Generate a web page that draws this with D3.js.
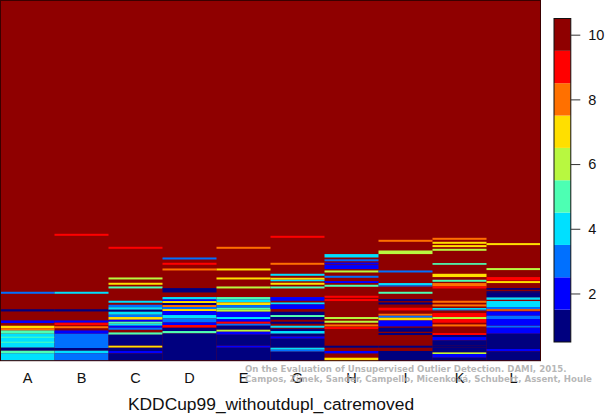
<!DOCTYPE html>
<html><head><meta charset="utf-8">
<script src="https://cdn.jsdelivr.net/npm/d3@7"></script>
<style>html,body{margin:0;padding:0;background:#fff}svg{display:block}</style></head>
<body><svg id="c" width="605" height="415"></svg>
<script>
const methods=["A","B","C","D","E","G","H","I","K","L"];
const levels=[1,2,3,4,5,6,7,8,9,10];
const levelColors=["#00007f","#0000ff","#0070ff","#00e0ff","#4dffb3","#b8f840","#ffdf00","#ff7000","#ff0000","#8f0000"];
const barTicks=[2,4,6,8,10];
const title="KDDCup99_withoutdupl_catremoved";
const creditLines=["On the Evaluation of Unsupervised Outlier Detection. DAMI, 2015.","Campos, Zimek, Sander, Campello, Micenková, Schubert, Assent, Houle"];
// each band: [rank start, rank end, score level]; rank runs 0..361 from the top, anything unlisted is level 10
const bandsA=[[292,294,3],[309.5,311.7,1],[320.7,323.3,2],[326,328.5,7],[328.5,330.7,8],[330.7,334,5],[334,348,4],[337,338,5],[342,343,5],[348,351,1],[351,353.5,5],[353.5,361,4]];
const bandsB=[[234,236,9],[292,294,4],[309.5,311.7,1],[320.7,323,2],[323,325.5,9],[326.5,328.5,8],[330.7,334,2],[334,348.3,3],[348.3,351,1],[351,353.5,4],[353.5,361,3]];
const bandsC=[[247,249,9],[277.7,279.7,6],[283,285,7],[286.7,288.7,5],[301,303,4],[305,307.5,3],[307.5,310,4],[310,312,1],[312,315,4],[315,317.3,3],[317.3,320,7],[320,322,2],[322,324,5],[324,326,4],[326,328,2],[328,330,3],[332.7,335,5],[335,346,1],[346,348,7],[348,351.3,1],[351.3,353.7,2],[353.7,361,1]];
const bandsD=[[257.7,259.7,3],[263,265,9],[268.7,270.7,8],[288.3,292.7,1],[297.3,299.7,4],[299.7,301.3,2],[301.3,303.3,7],[303.3,305.3,1],[305.3,307.3,8],[307.3,309.3,3],[309.3,311.3,7],[311.3,315.3,2],[315.3,318.7,4],[318.7,322.7,3],[322.7,325.3,2],[325.3,328,9],[328,331.3,1],[331.3,333.7,5],[333.7,361,1]];
const bandsE=[[247,249,8],[268.7,270.7,7],[277.7,279.7,7],[286.7,288.7,6],[297.3,299.7,5],[299.7,302.7,4],[302.7,305.3,7],[305.3,308,3],[308,310,5],[310,312,6],[312,317.3,2],[317.3,319.3,4],[319.3,322,2],[322,324,9],[324,326,3],[326,330,1],[330,332,6],[332,335,2],[335,346,1],[346,348,2],[348,361,1]];
const bandsG=[[236,238,9],[263,265,8],[274,276,4],[278,280,7],[280,281.5,4],[283,285,7],[286.7,288.7,5],[297.3,301,2],[302.7,304.7,4],[304.7,309.3,2],[312,315.3,1],[315.3,317.3,5],[317.3,320,1],[322,324,1],[326,328,4],[329,331.3,1],[331.3,334,4],[334,336.7,1],[336.7,339,2],[339,348,1],[348,350,4],[350,352,3],[352,361,1]];
const bandsH=[[254.3,257.7,4],[259.5,261.5,3],[262.7,264.7,2],[265.3,269.3,2],[270.7,272.7,6],[276,278,3],[281.3,283.3,2],[285,287,5],[296,298,9],[299.3,301.3,9],[317.3,319.3,6],[321,323,6],[324.7,326.7,8],[327.3,329.3,9],[346,348,1],[351.3,353.7,2],[358,361,7]];
const bandsI=[[240,242,8],[250.7,254.3,6],[270.7,272.7,3],[283.3,285.5,4],[285.5,286.7,3],[292,294,5],[299.3,301.3,1],[302.7,304.7,1],[308,310.7,9],[314,316,8],[316,318,3],[318,320.7,7],[320.7,326.7,2],[328,332,1],[333.3,335.3,1],[346,348,1],[351.3,361,1]];
const bandsK=[[238,240,8],[242,244,7],[245.3,247.3,7],[249,251,6],[263.3,265,5],[274,277.3,7],[280,282,5],[283.3,286.7,8],[286.7,288.7,9],[301,303,8],[304.7,306.7,8],[308.3,310,4],[310,310.7,3],[313.3,317.3,9],[317.3,319.3,6],[319.3,323,9],[324.7,326.7,8],[333.3,335.3,9],[335.3,337.3,1],[337.3,340.7,2],[340.7,346,1],[346,348,1],[348,352.7,1],[352.7,354.3,6],[354.3,358,2],[358,361,1]];
const bandsL=[[243.3,245.3,7],[268.3,270.3,6],[277.3,280.7,9],[281.3,283.3,7],[288.3,290,1],[291.5,293,1],[293,297.7,1],[297.7,300,4],[301.3,307.3,4],[307.3,309.5,3],[309.5,311,8],[311.7,316,2],[316,319.3,3],[319.3,326,2],[326,328,3],[328,334,2],[334,349.3,1],[349.3,351.7,2],[351.7,361,1]];
const allBands=[bandsA,bandsB,bandsC,bandsD,bandsE,bandsG,bandsH,bandsI,bandsK,bandsL];

const svg=d3.select("#c");
const x=d3.scaleBand().domain(methods).range([0.5,540.5]);
const y=d3.scaleLinear().domain([0,361]).range([0,360.7]);
const color=d3.scaleOrdinal().domain(levels).range(levelColors);
const bar=d3.scaleLinear().domain([0.5,10.5]).range([342,18.5]);

svg.append("defs").append("filter").attr("id","soft").attr("x",0).attr("y",0).attr("width",1).attr("height",1)
  .append("feGaussianBlur").attr("stdDeviation","0.3 0.4");
const heat=svg.append("g").attr("filter","url(#soft)");
heat.append("rect").attr("x",x.range()[0]).attr("y",y(0)).attr("width",x.range()[1]-x.range()[0]).attr("height",y(361)-y(0)).attr("fill",color(10));
methods.forEach((m,i)=>{
  heat.append("g").selectAll("rect").data(allBands[i]).join("rect")
    .attr("x",x(m)).attr("width",x.bandwidth())
    .attr("y",d=>y(d[0])).attr("height",d=>y(d[1])-y(d[0]))
    .attr("fill",d=>color(d[2]));
});
svg.append("rect").attr("x",x.range()[0]).attr("y",0.5).attr("width",x.range()[1]-x.range()[0]).attr("height",y(361)-0.5)
  .attr("fill","none").attr("stroke","#3a0000").attr("stroke-width",1);

const xAxis=svg.append("g").attr("transform","translate(0,361)").call(d3.axisBottom(x).tickSize(0).tickPadding(12));
xAxis.select(".domain").remove();
xAxis.selectAll("text").attr("font-family","'Liberation Sans',sans-serif").attr("font-size",14.5).attr("fill","#111");

svg.append("g").selectAll("rect").data(levels).join("rect")
  .attr("x",554).attr("width",16.8)
  .attr("y",d=>bar(d+0.5)).attr("height",d=>bar(d-0.5)-bar(d+0.5))
  .attr("fill",d=>color(d));
svg.append("rect").attr("x",554).attr("y",18.5).attr("width",16.8).attr("height",323.5).attr("fill","none").attr("stroke","#111").attr("stroke-width",1);
const barAxis=svg.append("g").attr("transform","translate(570.8,0)").call(d3.axisRight(bar).tickValues(barTicks).tickFormat(d3.format("d")).tickSize(9.5).tickPadding(8));
barAxis.select(".domain").remove();
barAxis.selectAll("line").attr("stroke","#333");
barAxis.selectAll("text").attr("font-family","'Liberation Sans',sans-serif").attr("font-size",14.5).attr("fill","#111");

svg.append("text").attr("x",271).attr("y",410).attr("text-anchor","middle")
  .attr("font-family","'Liberation Sans',sans-serif").attr("font-size",17.4).attr("fill","#111").text(title);
svg.append("g").selectAll("text").data(creditLines).join("text")
  .attr("x",245).attr("y",(d,i)=>372+i*10.3)
  .attr("font-family","'DejaVu Sans',sans-serif").attr("font-weight","bold").attr("font-size",8.65)
  .attr("fill","#aaa").attr("fill-opacity",0.85).text(d=>d);
</script></body></html>
